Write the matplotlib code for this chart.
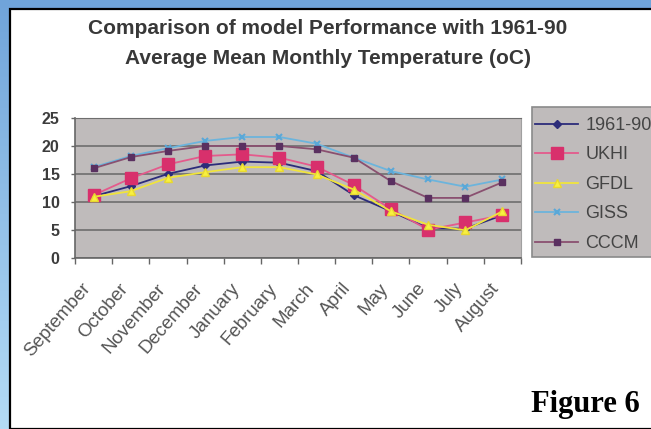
import matplotlib.pyplot as plt
import matplotlib.transforms as mtransforms
from matplotlib.patches import Rectangle
from matplotlib.colors import LinearSegmentedColormap
import numpy as np

# data (deg C)
months = ['September', 'October', 'November', 'December', 'January', 'February',
          'March', 'April', 'May', 'June', 'July', 'August']
obs_1961_90 = [11.0, 12.8, 15.0, 16.5, 17.2, 17.0, 15.5, 11.2, 8.3, 5.3, 5.2, 7.6]
ukhi = [11.2, 14.2, 16.7, 18.2, 18.5, 17.9, 16.3, 13.0, 8.7, 5.0, 6.3, 7.6]
gfdl = [10.9, 11.9, 14.3, 15.3, 16.2, 16.2, 14.9, 12.2, 8.3, 5.9, 4.9, 8.3]
giss = [16.2, 18.2, 19.6, 20.9, 21.6, 21.6, 20.4, 17.9, 15.5, 14.0, 12.7, 14.0]
cccm = [16.0, 18.0, 19.1, 20.0, 20.0, 20.0, 19.4, 17.9, 13.7, 10.7, 10.7, 13.5]
series_names = ['1961-90', 'UKHI', 'GFDL', 'GISS', 'CCCM']
yticks = [0, 5, 10, 15, 20, 25]

plt.rcParams['font.family'] = ['Liberation Sans', 'DejaVu Sans']

W, H = 651, 429
fig = plt.figure(figsize=(W / 100, H / 100), dpi=100)

# blue page background with a gradient, white panel with black edge
bg = fig.add_axes([0, 0, 1, 1], zorder=-10)
grad = np.linspace(0, 1, 256).reshape(-1, 1)
bg.imshow(grad, aspect='auto', extent=[0, 1, 0, 1],
          cmap=LinearSegmentedColormap.from_list('pg', ['#70a4da', '#b4dcf6']))
bg.add_patch(Rectangle((9.5 / W, 0), 1, 1 - 8.5 / H, facecolor='white',
                       edgecolor='black', linewidth=1.6))
bg.set_xlim(0, 1)
bg.set_ylim(0, 1)
bg.axis('off')

fig.text(328 / W, 1 - 29 / H, 'Comparison of model Performance with 1961-90',
         ha='center', va='center', fontsize=15, fontweight='bold', color='#383838')
fig.text(328 / W, 1 - 59 / H, 'Average Mean Monthly Temperature (oC)',
         ha='center', va='center', fontsize=15, fontweight='bold', color='#383838')

ax = fig.add_axes([75 / W, 1 - 257.7 / H, 446 / W, 139.7 / H])
ax.set_facecolor('#bfbbbb')
x = np.arange(len(months))

styles = [
    (obs_1961_90, dict(color='#2c2c7a', marker='D', ms=4, mfc='#2c2c7a', mec='#2c2c7a')),
    (ukhi, dict(color='#e45a8c', marker='s', ms=8, mfc='#d8306c', mec='#d8306c')),
    (gfdl, dict(color='#f0e43c', marker='^', ms=6, mfc='#f8f040', mec='#e8d830')),
    (giss, dict(color='#6cb4dc', marker='x', ms=5, mew=1.5, mec='#5aa8d8')),
    (cccm, dict(color='#8a5070', marker='s', ms=4, mfc='#5a3060', mec='#5a3060')),
]
handles = []
for (vals, st), name in zip(styles, series_names):
    h, = ax.plot(x, vals, lw=1.3, label=name, **st)
    handles.append(h)

ax.set_xlim(-0.5, len(months) - 0.5)
ax.set_ylim(0, 25)
ax.set_yticks(yticks)
ax.set_yticklabels([str(t) for t in yticks], fontsize=11.5, fontweight='bold', color='#3c3c3c')
ax.yaxis.grid(True, color='#6e6e6e', lw=1.2)
ax.set_axisbelow(True)
ax.set_xticks(x)
ax.set_xticks(np.arange(-0.5, len(months)), minor=True)
ax.tick_params(axis='x', which='major', length=0, pad=16)
ax.tick_params(axis='x', which='minor', length=4, color='#666666', width=1)
ax.tick_params(axis='y', length=3, color='#666666', width=1, pad=8)
ax.set_xticklabels(months, rotation=49, ha='right', va='top', rotation_mode='anchor',
                   fontsize=13.5, color='#555555')
# Excel puts the end of each slanted label a little left of the category centre
shift = mtransforms.ScaledTranslation(-0.12, 0, fig.dpi_scale_trans)
for lab in ax.get_xticklabels():
    lab.set_transform(lab.get_transform() + shift)
for side in ['left', 'bottom']:
    ax.spines[side].set_color('#666666')
    ax.spines[side].set_linewidth(1.2)
ax.spines['top'].set_color('#6e6e6e')
ax.spines['right'].set_color('#a0a0a0')

# legend box
bg.add_patch(Rectangle((532 / W, 1 - 257 / H), 130 / W, 150 / H,
                       facecolor='#bfbbbb', edgecolor='#8a8a8a', linewidth=1.2))
leg = fig.legend(handles=handles, loc='upper left', bbox_to_anchor=(535 / W, 1 - 117 / H),
                 frameon=False, fontsize=13, handlelength=2.4, handletextpad=0.4,
                 labelspacing=0.69, borderpad=0, borderaxespad=0)
for t in leg.get_texts():
    t.set_color('#444444')

fig.text(531 / W, 1 - 412 / H, 'Figure 6', ha='left', va='baseline',
         fontsize=22, fontweight='bold', family='Liberation Serif', color='black')

fig.savefig('out.png', dpi=100)
